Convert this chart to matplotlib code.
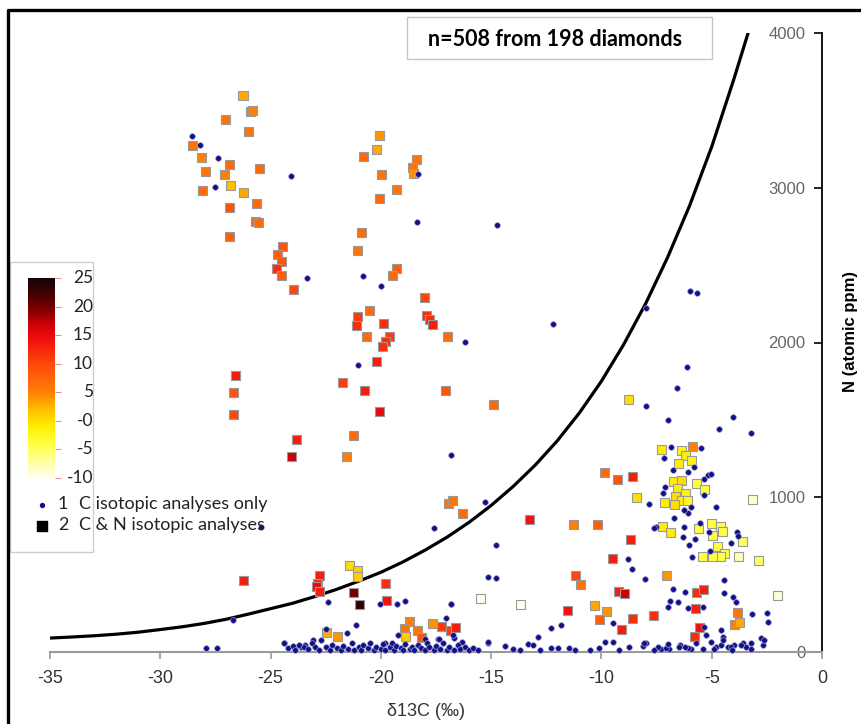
import matplotlib
matplotlib.use("Agg")
import matplotlib.pyplot as plt
import numpy as np
from matplotlib import font_manager
from matplotlib.colors import LinearSegmentedColormap, Normalize
from matplotlib.cm import ScalarMappable
from matplotlib.patches import Rectangle
from matplotlib.lines import Line2D

# ---------------- data ----------------
# C & N analyses (squares): d13C, N (atomic ppm), d15N
sq_d13c = [-26.25, -25.9, -25.8, -27.06, -25.98, -28.52, -28.15, -26.84, -27.97, -27.09,
           -25.52, -26.8, -26.23, -28.1, -26.84, -25.66, -25.7, -25.55, -26.88, -24.47,
           -24.68, -24.49, -24.75, -24.52, -23.96, -20.06, -20.22, -20.8, -18.4, -18.56,
           -18.53, -19.99, -19.28, -20.04, -20.88, -21.08, -19.27, -19.46, -18.02, -17.91,
           -17.8, -17.68, -17.0, -20.51, -21.04, -21.1, -19.88, -20.67, -19.6, -19.79,
           -19.91, -20.22, -21.76, -20.76, -17.07, -14.91, -20.07, -26.61, -26.7, -26.7,
           -23.81, -24.07, -21.26, -21.55, -8.76, -9.84, -9.29, -8.61, -8.4, -13.24,
           -11.26, -10.2, -8.66, -9.52, -11.17, -10.94, -9.23, -8.96, -15.46, -13.69,
           -11.54, -10.3, -9.79, -10.11, -8.61, -7.63, -9.09, -5.71, -5.36, -5.74,
           -5.55, -5.76, -3.82, -3.97, -3.74, -2.01, -7.07, -17.65, -17.26, -16.84,
           -16.63, -22.78, -22.85, -22.93, -22.78, -21.4, -21.05, -21.05, -21.22, -20.97,
           -19.81, -19.76, -22.48, -21.98, -18.7, -18.93, -18.9, -18.32, -18.14, -26.21,
           -7.26, -6.39, -5.89, -6.17, -5.91, -6.51, -6.72, -6.39, -6.54, -6.62,
           -6.17, -6.39, -6.09, -6.69, -7.14, -5.67, -5.33, -3.14, -7.21, -6.88,
           -5.6, -5.03, -4.58, -4.95, -4.5, -4.73, -4.42, -4.6, -4.95, -5.41,
           -3.59, -3.79, -2.88, -16.95, -16.77, -16.32]
sq_n = [3594, 3490, 3497, 3441, 3366, 3275, 3195, 3149, 3108, 3087,
        3123, 3014, 2967, 2984, 2873, 2899, 2780, 2773, 2687, 2618,
        2569, 2526, 2479, 2435, 2345, 3335, 3247, 3200, 3182, 3131,
        3092, 3088, 2989, 2931, 2713, 2593, 2479, 2435, 2289, 2173,
        2150, 2117, 2037, 2209, 2166, 2112, 2123, 2037, 2037, 2005,
        1972, 1875, 1742, 1688, 1688, 1602, 1552, 1785, 1675, 1535,
        1374, 1262, 1402, 1266, 1634, 1158, 1115, 1137, 997, 857,
        822, 822, 728, 601, 495, 437, 388, 375, 347, 308,
        271, 301, 263, 211, 215, 239, 147, 386, 402, 282,
        160, 99, 256, 179, 189, 368, 497, 185, 168, 138,
        157, 497, 444, 422, 390, 557, 525, 487, 383, 308,
        444, 336, 125, 99, 196, 153, 103, 142, 95, 465,
        1311, 1305, 1326, 1273, 1240, 1219, 1100, 1111, 1057, 1003,
        1025, 982, 982, 950, 964, 1090, 1051, 988, 809, 771,
        799, 831, 814, 756, 777, 680, 638, 616, 616, 616,
        712, 616, 594, 962, 982, 898]
sq_d15n = [3, 5, 5, 6, 6, 6, 5, 7, 6, 5,
           7, 2, 3, 7, 9, 7, 7, 7, 8, 9,
           8, 9, 12, 8, 10, 4, 3, 7, 6, 6,
           4, 6, 6, 7, 7, 6, 8, 7, 10, 12,
           12, 13, 7, 7, 11, 12, 12, 7, 11, 12,
           12, 13, 11, 13, 9, 7, 15, 13, 9, 10,
           13, 17, 7, 5, 0, 7, 9, 13, 0, 14,
           5, 8, 13, 13, 10, 6, 13, 17, -10, -10,
           14, 3, 4, 8, 12, 12, 13, 12, 13, 13,
           14, 12, 6, 5, 3, -9, 4, 4, 11, 11,
           13, 13, 12, 15, 13, 0, 1, 1, 20, 23,
           12, 14, 3, 4, 5, 6, 1, 6, 9, 13,
           -1, -2, 5, -1, -2, -1, -1, 0, -1, 0,
           -2, -1, -3, 0, -1, -4, -4, -9, -1, -1,
           -4, -4, -4, -4, -4, -4, -4, -4, -4, -4,
           -5, -8, -5, 6, 6, 7]

# C-only analyses (dots): d13C, N (atomic ppm)
dot_d13c = [-28.54, -28.19, -27.37, -27.54, -24.07, -18.33, -18.36, -23.34, -20.81, -19.99,
            -16.18, -14.73, -21.02, -16.82, -12.19, -7.98, -5.97, -5.67, -6.12, -6.57,
            -7.96, -6.97, -4.65, -4.05, -3.22, -25.43, -26.71, -15.28, -14.78, -17.59,
            -7.83, -7.53, -8.79, -8.61, -8.04, -15.15, -14.79, -12.29, -11.83, -12.86,
            -9.46, -16.82, -17.04, -17.42, -16.69, -15.12, -14.37, -13.34, -13.12, -9.86,
            -9.49, -8.73, -6.77, -6.21, -6.88, -6.97, -6.54, -6.09, -5.41, -4.43,
            -4.43, -4.05, -3.9, -3.17, -2.51, -2.46, -5.33, -5.26, -4.58, -4.5,
            -6.46, -5.94, -5.41, -5.03, -4.81, -4.58, -4.27, -3.97, -3.59, -3.45,
            -2.77, -2.69, -8.13, -7.98, -7.3, -6.92, -12.28, -11.98, -11.46, -6.84,
            -5.49, -7.18, -6.77, -6.09, -5.79, -5.15, -5.03, -5.36, -7.14, -7.22,
            -5.33, -4.8, -5.94, -6.09, -6.24, -6.69, -7.6, -6.24, -5.55, -6.31,
            -6.02, -5.76, -5.11, -3.85, -3.81, -4.13, -5.06, -5.9, -8.05, -7.45,
            -7.07, -6.47, -6.09, -4.5, -4.13, -3.67, -3.22, -2.62, -22.4, -20.02,
            -19.28, -18.9, -16.81, -21.12, -22.48, -21.55, -19.79, -19.23, -18.02, -16.74,
            -16.33, -15.12, -17.37, -23.08, -22.71, -24.37, -23.92, -23.61, -23.46, -27.92,
            -27.43, -24.4, -24.2, -24.0, -23.9, -23.7, -23.5, -23.3, -23.1, -23.0,
            -22.8, -22.5, -22.3, -22.2, -22.0, -21.8, -21.7, -21.5, -21.3, -21.2,
            -21.0, -20.9, -20.8, -20.6, -20.5, -20.3, -20.2, -20.0, -19.9, -19.8,
            -19.6, -19.5, -19.4, -19.3, -19.1, -19.0, -18.9, -18.7, -18.6, -18.5,
            -18.3, -18.2, -18.0, -17.9, -17.8, -17.6, -17.5, -17.3, -17.2, -17.0,
            -16.9, -16.7, -16.5, -16.4, -16.2, -16.0, -15.8, -15.6, -14.0, -13.7,
            -12.8, -11.2, -10.5, -10.1, -9.2, -7.6, -7.0, -6.2, -5.7, -4.9,
            -4.1, -3.2]
dot_n = [3335, 3275, 3193, 3002, 3079, 3092, 2778, 2414, 2431, 2364,
         2005, 2758, 1854, 1273, 2119, 2220, 2332, 2321, 1843, 1703,
         1591, 1499, 1439, 1516, 1417, 807, 207, 971, 689, 801,
         956, 809, 601, 534, 470, 486, 478, 155, 172, 95,
         185, 308, 218, 84, 92, 56, 39, 50, 45, 67,
         67, 34, 407, 390, 329, 293, 325, 286, 293, 465,
         379, 357, 325, 244, 250, 196, 164, 110, 142, 99,
         45, 19, 19, 67, 34, 45, 34, 45, 56, 34,
         88, 45, 41, 56, 19, 19, 28, 28, 28, 1326,
         1320, 1255, 1176, 1165, 1197, 1143, 1150, 1116, 1064, 1025,
         1014, 939, 939, 896, 917, 864, 799, 809, 835, 745,
         691, 728, 777, 777, 749, 702, 654, 616, 56, 34,
         24, 34, 24, 78, 34, 45, 56, 78, 321, 310,
         308, 329, 310, 174, 149, 125, 60, 110, 82, 110,
         67, 63, 82, 78, 78, 56, 34, 34, 45, 24,
         24, 55, 25, 40, 15, 45, 30, 20, 60, 35,
         10, 30, 15, 45, 25, 10, 40, 20, 55, 15,
         30, 10, 45, 25, 60, 15, 35, 20, 50, 10,
         30, 60, 15, 40, 25, 10, 50, 20, 35, 10,
         45, 25, 15, 55, 30, 10, 40, 20, 60, 15,
         35, 10, 45, 20, 30, 10, 25, 15, 20, 15,
         15, 10, 15, 25, 15, 10, 50, 30, 55, 20,
         15, 20]

# model curve
curve_d13c = [-35, -34, -33, -32, -31, -30, -29, -28, -27, -26,
              -25, -24, -23, -22, -21, -20, -19, -18, -17, -16,
              -15, -14, -13, -12, -11, -10, -9, -8, -7, -6,
              -5, -4, -3.35]
curve_n = [90, 97, 105, 115, 128, 145, 163, 185, 212, 245,
           280, 315, 358, 405, 458, 515, 582, 658, 742, 838,
           947, 1070, 1208, 1365, 1545, 1750, 1985, 2250, 2550, 2885,
           3265, 3700, 4000]

x_ticks = [-35, -30, -25, -20, -15, -10, -5, 0]
y_ticks = [0, 1000, 2000, 3000, 4000]
cbar_ticks = [25, 20, 15, 10, 5, 0, -5, -10]
cbar_labels = ["25", "20", "15", "10", "5", "-0", "-5", "-10"]

title_text = "n=508 from 198 diamonds"
legend_rows = [("1", "C isotopic analyses only"), ("2", "C & N isotopic analyses")]

# ---------------- style ----------------
W, H = 861, 724
names = {f.name for f in font_manager.fontManager.ttflist}
narrow = "Liberation Sans Narrow" if "Liberation Sans Narrow" in names else "Liberation Sans"
calib = "Lato" if "Lato" in names else "DejaVu Sans"

cmap = LinearSegmentedColormap.from_list("d15n", [
    (0.0, (1.0, 1.0, 0.93)),
    (3/35, (1.0, 1.0, 0.6)),
    (6/35, (1.0, 1.0, 0.25)),
    (9/35, (1.0, 0.93, 0.0)),
    (12/35, (1.0, 0.74, 0.0)),
    (15/35, (1.0, 0.5, 0.02)),
    (20/35, (1.0, 0.28, 0.04)),
    (24/35, (0.95, 0.07, 0.05)),
    (27/35, (0.8, 0.0, 0.03)),
    (29/35, (0.55, 0.0, 0.0)),
    (32/35, (0.28, 0.0, 0.0)),
    (1.0, (0.08, 0.02, 0.02)),
])
norm = Normalize(-10, 25)

fig = plt.figure(figsize=(W / 100, H / 100), dpi=100)

def fx(px):
    return px / W

def fy(py):
    return 1 - py / H

ax = fig.add_axes([fx(50), fy(652), fx(822) - fx(50), fy(33) - fy(652)])
ax.set_xlim(-35, 0)
ax.set_ylim(0, 4000)

ax.plot(curve_d13c, curve_n, color="black", lw=2.3, zorder=2,
        solid_capstyle="round", solid_joinstyle="round")
ax.scatter(sq_d13c, sq_n, c=sq_d15n, cmap=cmap, norm=norm, marker="s", s=42,
           edgecolors="#9a9a9a", linewidths=0.8, zorder=3, clip_on=False)
ax.scatter(dot_d13c, dot_n, marker="o", s=17, color="#10108a",
           edgecolors="#a0a0c8", linewidths=0.5, zorder=4, clip_on=False)

for s in ["top", "right"]:
    ax.spines[s].set_visible(False)
ax.spines["left"].set_position(("data", 0))
ax.spines["left"].set_color("black")
ax.spines["left"].set_linewidth(1.3)
ax.spines["bottom"].set_color("#9a9a9a")
ax.spines["bottom"].set_linewidth(1.5)

ax.set_xticks(x_ticks)
ax.set_xticklabels([str(v) for v in x_ticks], family=narrow, fontsize=13, color="#333333")
ax.tick_params(axis="x", direction="out", length=5, width=1.2, color="#9a9a9a", pad=8)
ax.set_yticks(y_ticks)
ax.set_yticklabels([str(v) for v in y_ticks], family="Liberation Sans", fontsize=12, color="#666666")
ax.tick_params(axis="y", direction="out", length=6, width=1.2, color="black", pad=6)

fig.text(fx(426), fy(712), "δ13C (‰)", family=narrow, fontsize=13, color="#333333",
         ha="center", va="center")
fig.text(fx(851), fy(331), "N (atomic ppm)", family="Liberation Sans", fontsize=12,
         fontweight="bold", rotation=90, ha="center", va="center")

# overlay for frame, title box, colorbar box & legend (pixel coordinates)
ov = fig.add_axes([0, 0, 1, 1], zorder=5)
ov.set_xlim(0, W)
ov.set_ylim(H, 0)
ov.axis("off")
ov.patch.set_alpha(0)

ov.add_line(Line2D([8, 8, W + 5], [H + 5, 10, 10], color="black", lw=2.4))
ov.add_patch(Rectangle((407, 17), 305, 42, facecolor="white", edgecolor="#c4c4c4", lw=1.0))
ov.text(555, 39, title_text, family=calib, fontweight="bold", fontsize=15.5,
        ha="center", va="center")

ov.add_patch(Rectangle((10, 262), 83, 290, facecolor="white", edgecolor="#cfcfcf", lw=1.0))

# colorbar
cax = fig.add_axes([fx(28), fy(478), fx(55) - fx(28), fy(278) - fy(478)], zorder=6)
cb = fig.colorbar(ScalarMappable(norm=norm, cmap=cmap), cax=cax)
cb.outline.set_visible(False)
cax.set_yticks(cbar_ticks)
cax.set_yticklabels([])
cax.tick_params(axis="y", length=4, width=0.8, color="#e89090", right=True, left=False)
for v, lab in zip(cbar_ticks, cbar_labels):
    py = 478 - (v + 10) / 35 * 200
    ov.text(93, py, lab, family=calib, fontsize=12.5, ha="right", va="center", color="#222222")

# legend
ov.scatter([42], [505], marker="o", s=8, color="#12128c")
ov.scatter([42], [526], marker="s", s=45, color="black")
for i, (num, lab) in enumerate(legend_rows):
    py = 504 + i * 21
    ov.text(63, py, num, family=calib, fontsize=13, ha="center", va="center", color="#222222")
    ov.text(79, py, lab, family=calib, fontsize=13, ha="left", va="center", color="#222222")

fig.savefig("out.png", dpi=100)
